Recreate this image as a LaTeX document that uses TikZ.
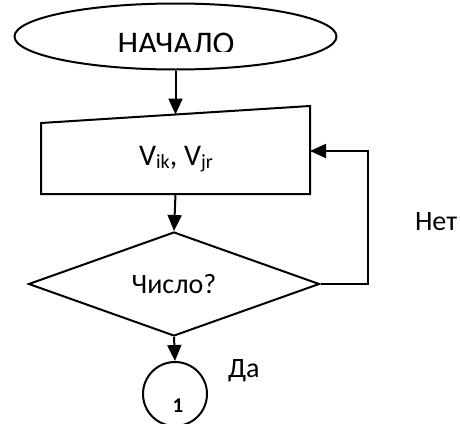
\documentclass[tikz,border=0pt]{standalone}
\usepackage{fontspec}
\setmainfont{Carlito}
\usetikzlibrary{shapes.geometric,arrows.meta}
\begin{document}
\begin{tikzpicture}[x=1pt,y=-1pt, line width=2pt,
  arr/.style={-{Triangle[length=16pt,width=14pt]}},
  lbl/.style={font=\fontsize{28}{33}\selectfont, inner sep=0pt}]
\useasboundingbox (0,0) rectangle (460,423);
% start
\node[draw, ellipse, minimum width=322pt, minimum height=66pt, inner sep=0pt] (start) at (175.5,36.5) {};
\begin{scope}
\clip (0,0) rectangle (460,51);
\node[anchor=base, inner sep=0pt, font=\fontsize{33}{40}\selectfont] (starttext) at (176,54) {НАЧАЛО};
\end{scope}
% manual input
\coordinate (b1) at (41,123);
\coordinate (b2) at (310,106);
\coordinate (b3) at (310,194);
\coordinate (b4) at (41,194);
\draw (b1) -- (b2) -- (b3) -- (b4) -- cycle;
\coordinate (boxin) at (175.5,114.5);
\coordinate (boxout) at (175.5,194);
\coordinate (boxback) at (310,151);
\node[anchor=base, inner sep=0pt, font=\fontsize{30}{36}\selectfont] (boxtext) at (176,165)
  {V\raisebox{-0.12em}{\fontsize{20}{24}\selectfont ik}, V\raisebox{-0.12em}{\fontsize{20}{24}\selectfont jr}};
% decision
\node[draw, diamond, minimum width=291pt, minimum height=104pt, inner sep=0pt, lbl] (dec) at (174,284) {Число?};
\coordinate (fbk) at (368,284);
% connector
\node[draw, circle, minimum size=64pt, inner sep=0pt] (conn) at (175,394) {};
\node[inner sep=0pt, font=\bfseries\fontsize{21}{24}\selectfont] (one) at (178,406) {1};
% labels
\node[lbl, anchor=base west] (no) at (414,230) {Нет};
\node[lbl, anchor=base west] (yes) at (227,377) {Да};
% arrows
\draw[arr] (start.south) -- (boxin);
\draw[arr] (boxout) -- (dec.north);
\draw[arr] (dec.east) -- (fbk) |- (boxback);
\draw[arr] (dec.south) -- (conn.north);
\end{tikzpicture}
\end{document}
